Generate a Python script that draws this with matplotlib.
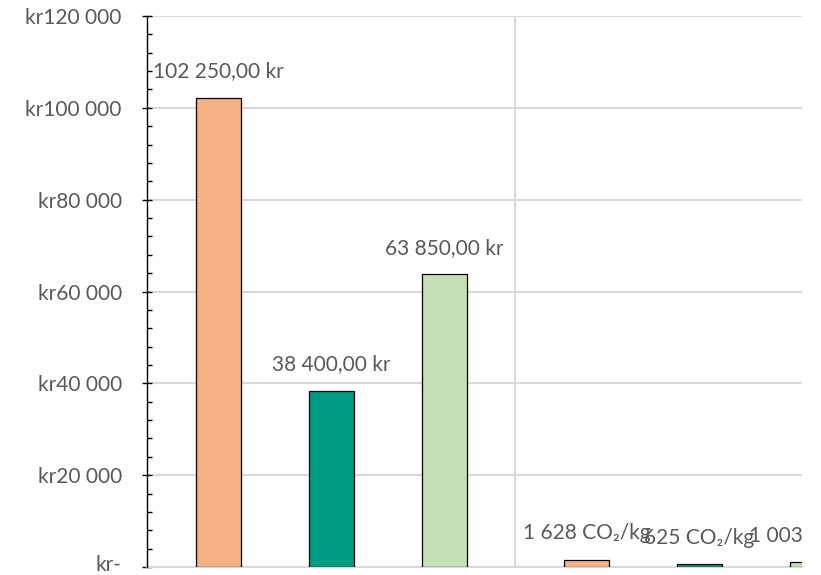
import matplotlib
matplotlib.use("Agg")
import matplotlib.pyplot as plt
from matplotlib.ticker import FuncFormatter, MultipleLocator
from matplotlib.transforms import ScaledTranslation

plt.rcParams["font.family"] = ["Lato", "DejaVu Sans"]

# ── Data ──────────────────────────────────────────────────────────────────────
categories = ["Kostnad", "CO2"]
series_a = [102250, 1628]
series_b = [38400, 625]
series_c = [63850, 1003]
colors = ["#F4B183", "#009B84", "#C5E0B4"]

TXT = "#595959"
GRID = "#D9D9D9"
FS = 15


def fmt_num(v):
    return f"{v:,}".replace(",", " ")


def fmt_label(v, cat):
    if cat == 0:
        s = f"{v:,.2f}".replace(",", " ").replace(".", ",")
        return f"{s} kr"
    return f"{fmt_num(v)} CO\u2082/kg"


def fmt_tick(v, _pos):
    if v == 0:
        return "kr-"
    return "kr" + fmt_num(int(v))


# ── Figure ────────────────────────────────────────────────────────────────────
fig = plt.figure(figsize=(8.21, 5.75), dpi=100)
ax = fig.add_axes([147 / 821, 8 / 575, 655 / 821, 551 / 575])

offsets = [-0.307, 0.0, 0.307]
width = 0.122
for vals, off, col in zip([series_a, series_b, series_c], offsets, colors):
    xs = [i + off for i in range(len(categories))]
    ax.bar(xs, vals, width=width, color=col, edgecolor="black",
           linewidth=0.9, zorder=3)
    for i, (x, v) in enumerate(zip(xs, vals)):
        # labels past the plot edge get clipped, like in the source chart
        ax.annotate(fmt_label(v, i), (x, v), xytext=(0, 14.5),
                    textcoords="offset points", ha="center", va="baseline",
                    fontsize=FS, color=TXT, annotation_clip=False,
                    clip_on=True, zorder=4)

ax.set_xlim(-0.5, 1.2785)
ax.set_ylim(0, 120000)

ax.yaxis.set_major_locator(MultipleLocator(20000))
ax.yaxis.set_minor_locator(MultipleLocator(4000))
ax.yaxis.set_major_formatter(FuncFormatter(fmt_tick))
ax.tick_params(axis="y", which="major", direction="inout", length=7.2,
               width=1, labelsize=FS, labelcolor=TXT, pad=14.5)
ax.tick_params(axis="y", which="minor", direction="in", length=3.6, width=1)
ax.set_xticks([])

ax.grid(axis="y", color=GRID, linewidth=1.5, zorder=0)
ax.axvline(0.5, color=GRID, linewidth=1.5, zorder=0)

for side in ["top", "right"]:
    ax.spines[side].set_visible(False)
ax.spines["left"].set_color("black")
ax.spines["left"].set_linewidth(1)
ax.spines["left"].set_zorder(5)
ax.spines["bottom"].set_color(GRID)
ax.spines["bottom"].set_linewidth(1.5)

# nudge the "kr-" label up a bit so it stays inside the figure
fig.canvas.draw()
for t in ax.yaxis.get_major_ticks():
    if t.get_loc() == 0:
        t.label1.set_transform(t.label1.get_transform()
                               + ScaledTranslation(0, 3 / 72, fig.dpi_scale_trans))

fig.savefig("out.png", dpi=100)
